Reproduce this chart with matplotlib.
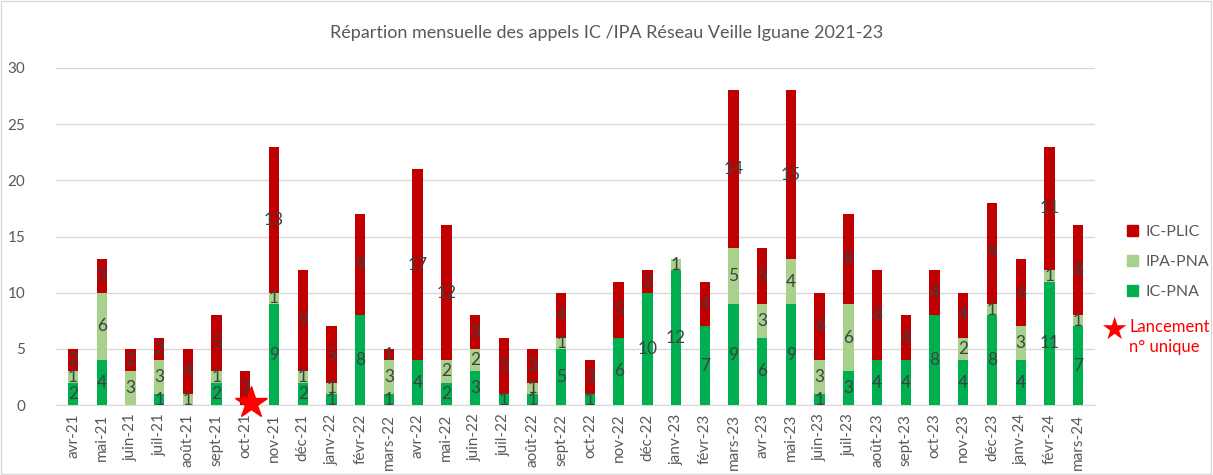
import matplotlib
matplotlib.use("Agg")
import matplotlib.pyplot as plt
from matplotlib.patches import Rectangle
import numpy as np

plt.rcParams['font.family'] = ['Lato', 'DejaVu Sans']

months = ["avr-21", "mai-21", "juin-21", "juil-21", "août-21", "sept-21", "oct-21", "nov-21",
          "déc-21", "janv-22", "févr-22", "mars-22", "avr-22", "mai-22", "juin-22", "juil-22",
          "août-22", "sept-22", "oct-22", "nov-22", "déc-22", "janv-23", "févr-23", "mars-23",
          "avr-23", "mai-23", "juin-23", "juil-23", "août-23", "sept-23", "oct-23", "nov-23",
          "déc-23", "janv-24", "févr-24", "mars-24"]
ic_pna = [2, 4, 0, 1, 0, 2, 0, 9, 2, 1, 8, 1, 4, 2, 3, 1, 1, 5, 1, 6, 10, 12, 7, 9,
          6, 9, 1, 3, 4, 4, 8, 4, 8, 4, 11, 7]
ipa_pna = [1, 6, 3, 3, 1, 1, 0, 1, 1, 1, 0, 3, 0, 2, 2, 0, 1, 1, 0, 0, 0, 1, 0, 5,
           3, 4, 3, 6, 0, 0, 0, 2, 1, 3, 1, 1]
ic_plic = [2, 3, 2, 2, 4, 5, 3, 13, 9, 5, 9, 1, 17, 12, 3, 5, 3, 4, 3, 5, 2, 0, 4, 14,
           5, 15, 6, 8, 8, 4, 4, 4, 9, 6, 11, 8]

title = "Répartion mensuelle des appels IC /IPA Réseau Veille Iguane 2021-23"
c_pna, c_ipa, c_plic = "#00B050", "#A9D18E", "#C00000"

fig = plt.figure(figsize=(12.13, 4.75), dpi=100)
ax = fig.add_axes([0.046, 0.147, 0.857, 0.71])

x = np.arange(len(months))
w = 0.36
a = np.array(ic_pna); b = np.array(ipa_pna); c = np.array(ic_plic)
bars = [(a, np.zeros_like(a), c_pna, "IC-PNA"),
        (b, a, c_ipa, "IPA-PNA"),
        (c, a + b, c_plic, "IC-PLIC")]
for vals, bottom, col, lab in bars:
    ax.bar(x, vals, w, bottom=bottom, color=col, label=lab, zorder=3)
    for xi, v, bt in zip(x, vals, bottom):
        if v > 0:
            ax.text(xi, bt + v / 2, str(v), ha='center', va='center',
                    fontsize=12.5, color='#404040', zorder=4)

ax.set_xlim(-0.6, len(months) - 0.4)
ax.set_ylim(0, 30)
ax.set_yticks(range(0, 31, 5))
ax.set_xticks(x)
ax.set_xticklabels(months, rotation=90, fontsize=11, color='#595959')
ax.tick_params(axis='y', labelsize=11, colors='#595959', length=0, pad=22)
ax.tick_params(axis='x', length=0, pad=6)
ax.grid(axis='y', color='#D9D9D9', linewidth=1, zorder=0)
for s in ['top', 'right', 'left']:
    ax.spines[s].set_visible(False)
ax.spines['bottom'].set_color('#D9D9D9')

# star marker for "Lancement n° unique"
ax.plot([6.2], [0.15], marker='*', color='#FF0000', markersize=24, clip_on=False, zorder=5)

handles = [Rectangle((0, 0), 1, 1, color=c_plic), Rectangle((0, 0), 1, 1, color=c_ipa),
           Rectangle((0, 0), 1, 1, color=c_pna)]
leg = fig.legend(handles, ["IC-PLIC", "IPA-PNA", "IC-PNA"], loc='upper left',
                 bbox_to_anchor=(0.917, 0.557), frameon=False, fontsize=11.5,
                 handlelength=0.7, handleheight=0.7, labelspacing=1.0, handletextpad=0.5)
for t in leg.get_texts():
    t.set_color('#595959')

fig.text(0.918, 0.305, "★", color='#FF0000', fontsize=22, ha='center', va='center',
         family=['DejaVu Sans'])
fig.text(0.931, 0.29, "Lancement\nn° unique", color='#FF0000', fontsize=12,
         ha='left', va='center', linespacing=1.3)

fig.text(0.5, 0.93, title, ha='center', va='center', fontsize=13, color='#595959')

fig.patches.append(Rectangle((0.001, 0.002), 0.997, 0.995, transform=fig.transFigure,
                             fill=False, edgecolor='#D9D9D9', linewidth=1))

fig.savefig("out.png", dpi=100)
